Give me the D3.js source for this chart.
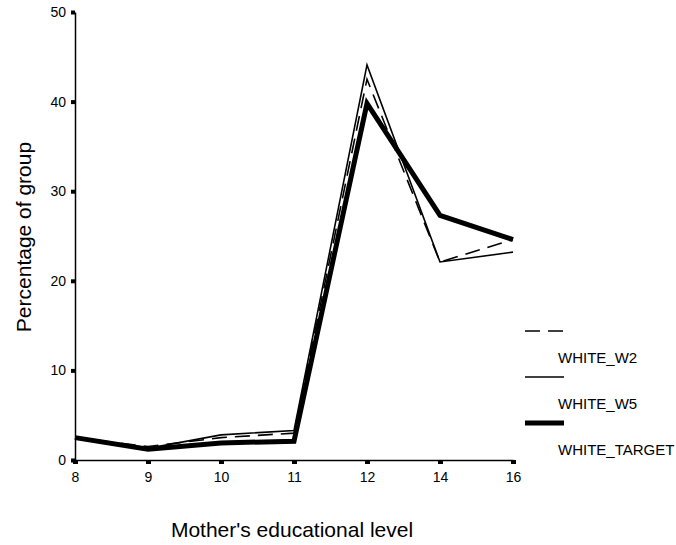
<!DOCTYPE html>
<html>
<head>
<meta charset="utf-8">
<script src="https://cdn.jsdelivr.net/npm/d3@7"></script>
<style>
  body { margin: 0; background: #fff; }
  svg { font-family: "Liberation Sans", Arial, sans-serif; }
</style>
</head>
<body>
<div id="chart"></div>
<script>
// categories along the x axis (mother's education, years)
const levels = ['8', '9', '10', '11', '12', '14', '16']
const yTicks = [0, 10, 20, 30, 40, 50]

// percentage of group
const whiteW2 = [2.5, 1.5, 2.5, 3.0, 42.5, 22.1, 24.6]
const whiteW5 = [2.5, 1.3, 2.8, 3.3, 44.1, 22.1, 23.2]
const whiteTarget = [2.5, 1.2, 1.9, 2.1, 39.8, 27.3, 24.6]

const seriesNames = ['WHITE_W2', 'WHITE_W5', 'WHITE_TARGET']

const width = 676
const height = 545

const series = [
  { name: seriesNames[0], values: whiteW2, width: 1.6, dash: '15,8' },
  { name: seriesNames[1], values: whiteW5, width: 1.6, dash: null },
  { name: seriesNames[2], values: whiteTarget, width: 5, dash: null }
]

const svg = d3.select('#chart').append('svg')
  .attr('width', width)
  .attr('height', height)

let x = d3.scalePoint()
  .domain(levels)
  .range([75, 513])

let y = d3.scaleLinear()
  .domain([0, 50])
  .range([460, 12])

// y axis with little square ticks
svg.append('g')
  .attr('transform', 'translate(75,0)')
  .call(d3.axisLeft(y).tickValues(yTicks).tickSize(4).tickPadding(5).tickSizeOuter(0))
  .call(g => g.select('.domain').attr('stroke', '#000').attr('stroke-width', 1.5))
  .call(g => g.selectAll('.tick line').attr('stroke', '#000').attr('stroke-width', 4))
  .call(g => g.selectAll('.tick text').attr('font-size', 14).attr('fill', '#000'))

// x axis
svg.append('g')
  .attr('transform', 'translate(0,460)')
  .call(d3.axisBottom(x).tickSize(4).tickPadding(8).tickSizeOuter(0))
  .call(g => g.select('.domain').attr('stroke', '#000').attr('stroke-width', 1.5))
  .call(g => g.selectAll('.tick line').attr('stroke', '#000').attr('stroke-width', 5))
  .call(g => g.selectAll('.tick text').attr('font-size', 14).attr('fill', '#000'))

let line = d3.line()
  .x((d, i) => x(levels[i]))
  .y(d => y(d))

svg.append('g').selectAll('path.series')
  .data(series)
  .enter().append('path')
  .attr('class', 'series')
  .attr('d', s => line(s.values))
  .attr('fill', 'none')
  .attr('stroke', '#000')
  .attr('stroke-width', s => s.width)
  .attr('stroke-dasharray', s => s.dash)
  .attr('stroke-linejoin', 'miter')

// legend: line sample above each name
let legend = svg.append('g').attr('transform', 'translate(525,331)')
let item = legend.selectAll('g')
  .data(series)
  .enter().append('g')
  .attr('transform', (s, i) => `translate(0, ${i * 46})`)

item.append('line')
  .attr('x1', 0).attr('x2', 39)
  .attr('y1', 0).attr('y2', 0)
  .attr('stroke', '#000')
  .attr('stroke-width', s => s.width)
  .attr('stroke-dasharray', s => s.dash)

item.append('text')
  .attr('x', 33)
  .attr('y', 32)
  .attr('font-size', 15)
  .text(s => s.name)

svg.append('text')
  .attr('x', 292)
  .attr('y', 537)
  .attr('text-anchor', 'middle')
  .attr('font-size', 21)
  .text("Mother's educational level")

svg.append('text')
  .attr('transform', 'translate(31,237) rotate(-90)')
  .attr('text-anchor', 'middle')
  .attr('font-size', 21)
  .text('Percentage of group')
</script>
</body>
</html>
